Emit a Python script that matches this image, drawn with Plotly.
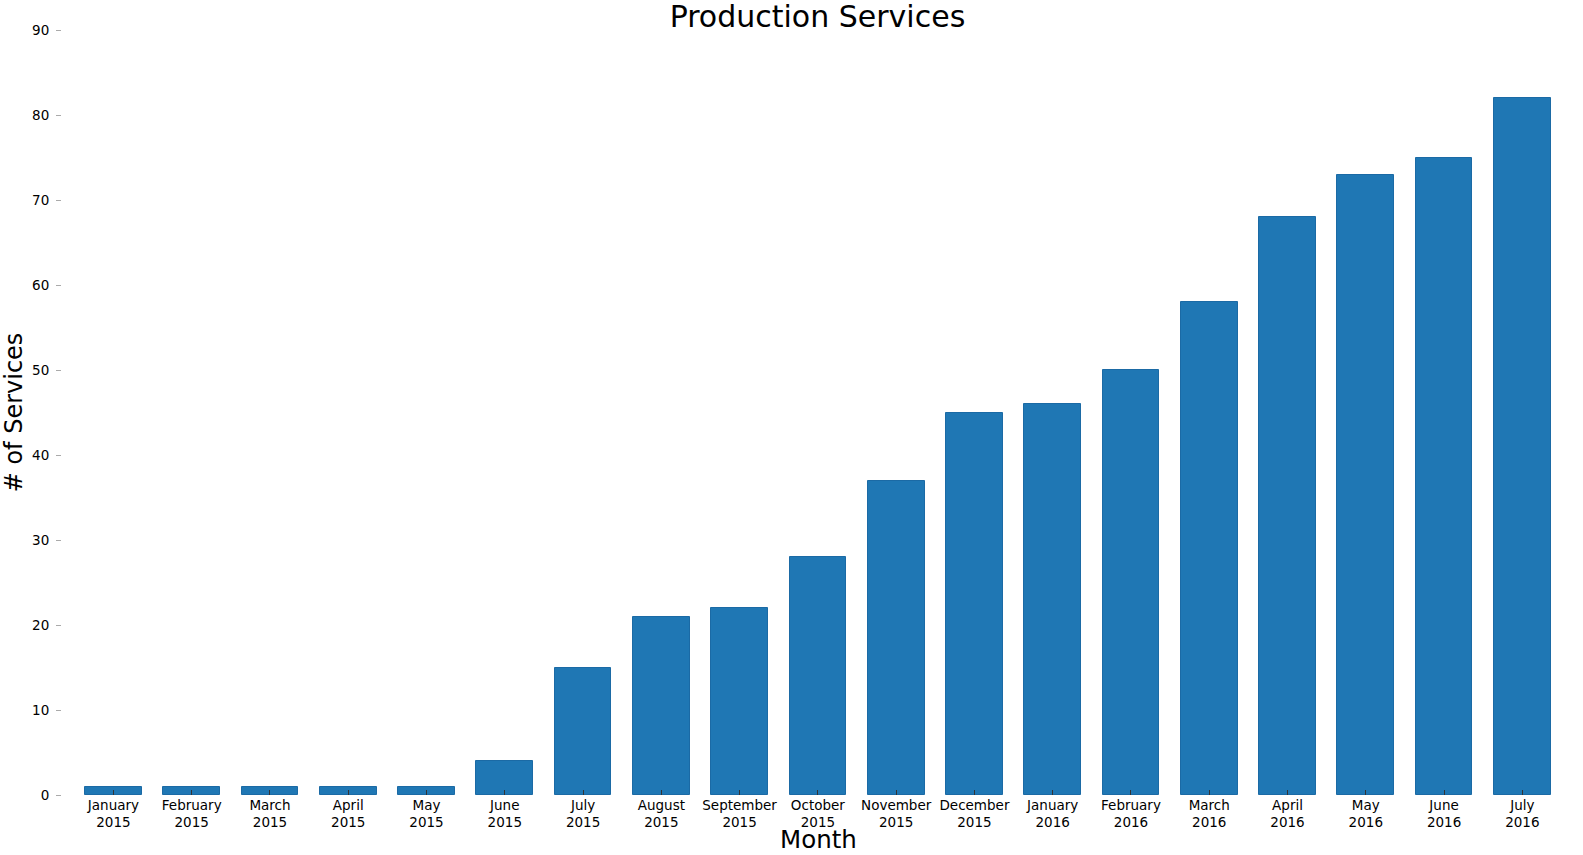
import plotly.graph_objs as go

# month labels and service counts
months = [
    'January<br>2015', 'February<br>2015', 'March<br>2015', 'April<br>2015',
    'May<br>2015', 'June<br>2015', 'July<br>2015', 'August<br>2015',
    'September<br>2015', 'October<br>2015', 'November<br>2015', 'December<br>2015',
    'January<br>2016', 'February<br>2016', 'March<br>2016', 'April<br>2016',
    'May<br>2016', 'June<br>2016', 'July<br>2016',
]
services = [1, 1, 1, 1, 1, 4, 15, 21, 22, 28, 37, 45, 46, 50, 58, 68, 73, 75, 82]
y_ticks = [0, 10, 20, 30, 40, 50, 60, 70, 80, 90]

positions = list(range(len(months)))

fig = go.Figure()
fig.add_trace(
    go.Bar(
        x=positions,
        y=services,
        width=0.725,
        marker=dict(color='#1f77b4', line=dict(color='#1b6aa5', width=1)),
        showlegend=False,
    )
)

font_family = 'DejaVu Sans'

fig.update_layout(
    width=1583,
    height=855,
    plot_bgcolor='white',
    paper_bgcolor='white',
    font=dict(family=font_family, color='black', size=13.5),
    margin=dict(l=62, r=9, t=30, b=60),
    title=dict(
        text='Production Services',
        x=0.5164,
        xanchor='center',
        y=1 - 16 / 855,
        yanchor='middle',
        font=dict(size=30, color='black'),
        automargin=False,
    ),
    bargap=0,
)

# x axis title as an annotation so it can sit a bit lower than the tick labels
fig.add_annotation(
    text='Month',
    xref='paper', yref='paper',
    x=0.5, y=0,
    xanchor='center', yanchor='middle',
    yshift=-44,
    showarrow=False,
    font=dict(size=24.5, color='black'),
)

fig.update_xaxes(
    range=[-0.657, 18.66],
    tickmode='array',
    tickvals=positions,
    ticktext=months,
    ticks='inside',
    ticklen=5,
    tickcolor='#333333',
    showline=False,
    showgrid=False,
    zeroline=False,
    tickangle=0,
    automargin=False,
    tickfont=dict(size=13.5),
)

fig.update_yaxes(
    range=[0, 90],
    tickmode='array',
    tickvals=y_ticks,
    ticks='outside',
    ticklen=5,
    tickcolor='#aaaaaa',
    showline=False,
    showgrid=False,
    zeroline=False,
    automargin=False,
    tickfont=dict(size=13.5),
    ticklabelstandoff=4,
    title=dict(text='# of Services', font=dict(size=24), standoff=6),
)

# drop the default page margin so the figure starts at the window corner
fig.write_html(
    'out.html',
    config={'displayModeBar': False},
    post_script="document.body.style.margin='0';",
)
